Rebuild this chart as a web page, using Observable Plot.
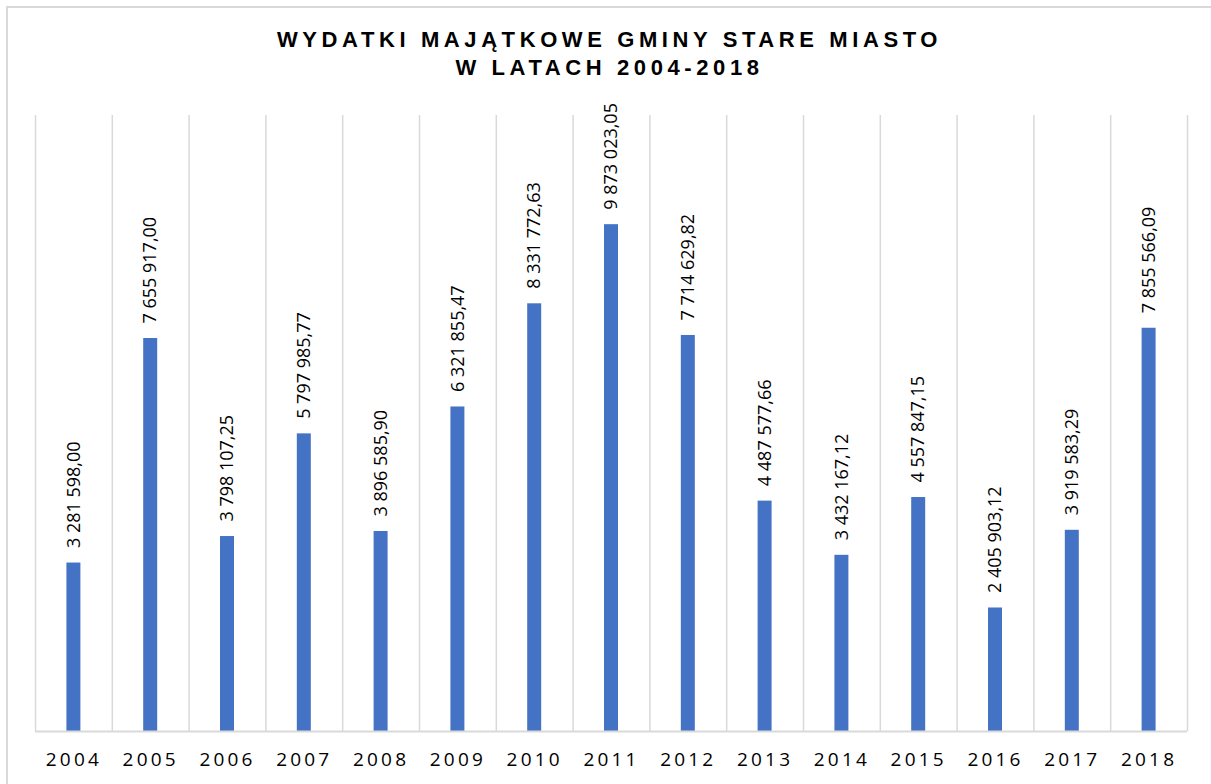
<!DOCTYPE html>
<html>
<head>
<meta charset="utf-8">
<script src="https://cdn.jsdelivr.net/npm/d3@7"></script>
<script src="https://cdn.jsdelivr.net/npm/@observablehq/plot@0.6"></script>
<style>
  html, body { margin: 0; padding: 0; background: #fff; }
  body { width: 1211px; height: 784px; overflow: hidden; position: relative; }
  #frame { position: absolute; left: 6px; top: 6px; width: 1230px; height: 800px; border: 2px solid #d9d9d9; box-sizing: border-box; z-index: 2; pointer-events: none; }
  #title { position: relative; height: 95px; box-sizing: border-box; padding-top: 26px; text-align: center;
    font-family: "Liberation Sans", Arial, sans-serif; font-weight: bold; font-size: 22px; line-height: 28px;
    letter-spacing: 4.6px; color: #000; padding-left: 8px; }
  #chart { position: relative; }
  #chart svg g[aria-label="x-axis tick label"] text { font-size: 19px; letter-spacing: 3.2px; }
</style>
</head>
<body>
<div id="frame"></div>
<div id="title">WYDATKI MAJĄTKOWE GMINY STARE MIASTO<br>W LATACH 2004-2018</div>
<div id="chart"></div>
<script>
const years = ["2004","2005","2006","2007","2008","2009","2010","2011","2012","2013","2014","2015","2016","2017","2018"];
const values = [3281598.00, 7655917.00, 3798107.25, 5797985.77, 3896585.90, 6321855.47, 8331772.63, 9873023.05, 7714629.82, 4487577.66, 3432167.12, 4557847.15, 2405903.12, 3919583.29, 7855566.09];
const labels = ["3 281 598,00","7 655 917,00","3 798 107,25","5 797 985,77","3 896 585,90","6 321 855,47","8 331 772,63","9 873 023,05","7 714 629,82","4 487 577,66","3 432 167,12","4 557 847,15","2 405 903,12","3 919 583,29","7 855 566,09"];

const data = years.map((y, i) => ({year: y, value: values[i], label: labels[i]}));

const width = 1211, height = 689;
const mL = 35, mR = 24;
const step = (width - mL - mR) / years.length;

const chart = Plot.plot({
  width, height,
  marginLeft: mL, marginRight: mR, marginTop: 20, marginBottom: 53,
  style: {fontFamily: "'Open Sans', sans-serif", background: "transparent", overflow: "visible"},
  x: {domain: years, paddingInner: 0.818, paddingOuter: 0.409, round: false, label: null},
  y: {domain: [0, 12000000], axis: null},
  marks: [
    Plot.ruleX(years, {x: d => d, dx: -step / 2, stroke: "#d9d9d9", strokeWidth: 1.5}),
    Plot.ruleX([years[years.length - 1]], {x: d => d, dx: step / 2, stroke: "#d9d9d9", strokeWidth: 1.5}),
    Plot.barY(data, {x: "year", y: "value", fill: "#4472c4"}),
    Plot.ruleY([0], {stroke: "#d9d9d9", strokeWidth: 2}),
    Plot.text(data, {x: "year", y: "value", text: "label", rotate: -90, textAnchor: "start", dy: -15, fontSize: 18, fill: "#000"}),
    Plot.axisX({tickSize: 0, tickPadding: 21, label: null, fill: "#000"})
  ]
});
document.getElementById("chart").appendChild(chart);
</script>
</body>
</html>
